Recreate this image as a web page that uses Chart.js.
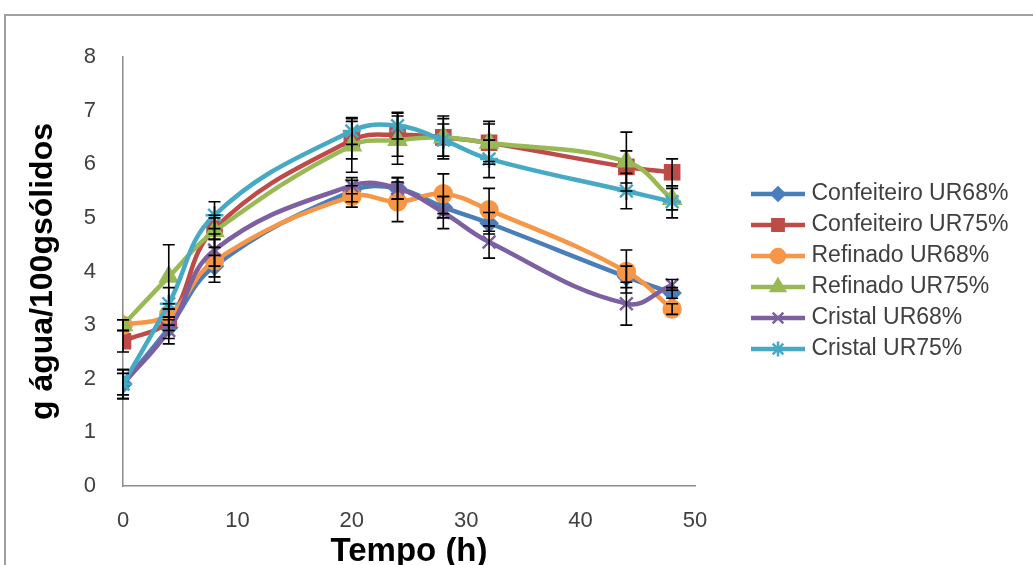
<!DOCTYPE html>
<html><head><meta charset="utf-8">
<script src="https://cdn.jsdelivr.net/npm/chart.js@4/dist/chart.umd.min.js"></script>
<style>
html,body{margin:0;padding:0;background:#fff;overflow:hidden;}
#wrap{position:relative;width:1033px;height:565px;overflow:hidden;background:#fff;}
#frame{position:absolute;left:4px;top:14px;width:1100px;height:700px;border:2px solid #a0a0a0;box-sizing:border-box;}
canvas{position:absolute;left:0;top:0;}
</style></head><body>
<div id="wrap"><div id="frame"></div><canvas id="c" width="1033" height="565"></canvas></div>
<script>
// ---- data ----
const times = [0, 4, 8, 20, 24, 28, 32, 44, 48];
const seriesNames = ['Confeiteiro UR68%', 'Confeiteiro UR75%', 'Refinado UR68%', 'Refinado UR75%', 'Cristal UR68%', 'Cristal UR75%'];
const confeiteiro68 = [1.9, 2.95, 4.1, 5.5, 5.55, 5.2, 4.9, 3.9, 3.6];
const confeiteiro75 = [2.7, 3.1, 4.8, 6.45, 6.55, 6.5, 6.4, 5.95, 5.85];
const refinado68   = [3.0, 3.2, 4.2, 5.4, 5.3, 5.45, 5.15, 4.0, 3.3];
const refinado75   = [3.0, 3.9, 4.75, 6.35, 6.45, 6.5, 6.4, 6.05, 5.35];
const cristal68    = [1.9, 2.9, 4.4, 5.6, 5.55, 5.1, 4.55, 3.4, 3.75];
const cristal75    = [1.9, 3.4, 5.05, 6.62, 6.72, 6.45, 6.1, 5.5, 5.3];
const errConfeiteiro68 = [0.2, 0.2, 0.2, 0.2, 0.2, 0.2, 0.2, 0.2, 0.1];
const errConfeiteiro75 = [0.2, 0.2, 0.2, 0.35, 0.4, 0.4, 0.4, 0.3, 0.25];
const errRefinado68    = [0.1, 0.2, 0.4, 0.2, 0.37, 0.37, 0.4, 0.4, 0.1];
const errRefinado75    = [0.1, 0.6, 0.3, 0.5, 0.45, 0.35, 0.35, 0.55, 0.2];
const errCristal68     = [0.27, 0.25, 0.3, 0.15, 0.2, 0.3, 0.3, 0.4, 0.1];
const errCristal75     = [0.27, 0.3, 0.25, 0.25, 0.25, 0.3, 0.35, 0.33, 0.3];
const xTicks = [0, 10, 20, 30, 40, 50];
const yTicks = [0, 1, 2, 3, 4, 5, 6, 7, 8];

// ---- styles ----
const seriesValues = [confeiteiro68, confeiteiro75, refinado68, refinado75, cristal68, cristal75];
const seriesErrors = [errConfeiteiro68, errConfeiteiro75, errRefinado68, errRefinado75, errCristal68, errCristal75];
const colors = ['#4A7EBB', '#BE4B48', '#F79646', '#98B954', '#7D60A0', '#46AAC5'];
const styles = ['rectRot', 'rect', 'circle', 'triangle', 'crossRot', 'star'];
const radii = [8, 10, 8.5, 9.5, 9, 9];
const legendRadii = [6.5, 8, 7, 8, 7.5, 7.5];

Chart.defaults.font.family = "'Liberation Sans', Arial, sans-serif";

function makeLegendImg(color, style, r) {
  const c = document.createElement('canvas');
  c.width = 107; c.height = 24;
  const g = c.getContext('2d');
  g.strokeStyle = color; g.lineWidth = 4.5;
  g.beginPath(); g.moveTo(53, 12); g.lineTo(107, 12); g.stroke();
  g.fillStyle = color; g.lineWidth = 2.5;
  Chart.helpers.drawPoint(g, {pointStyle: style, radius: r, rotation: 0, borderWidth: 2.5}, 80, 12);
  return c;
}
const legendImgs = colors.map((c, i) => makeLegendImg(c, styles[i], legendRadii[i]));

const datasets = seriesNames.map((name, i) => ({
  label: name,
  data: times.map((t, j) => ({x: t, y: seriesValues[i][j]})),
  borderColor: colors[i],
  backgroundColor: colors[i],
  borderWidth: 4.5,
  pointStyle: styles[i],
  pointRadius: radii[i],
  pointBackgroundColor: colors[i],
  pointBorderColor: colors[i],
  pointBorderWidth: 2.5,
  tension: 0.4,
  order: seriesNames.length - i
}));

const LEGEND_W = 338;
const legendWidthPlugin = {
  id: 'legendWidth',
  beforeLayout(chart) {
    const lg = chart.legend;
    if (lg && !lg._patched) {
      const orig = lg.fit;
      lg.fit = function () { orig.call(this); this.width = LEGEND_W; };
      lg._patched = true;
    }
  }
};

const errorBarPlugin = {
  id: 'errorBars',
  afterDatasetsDraw(chart) {
    const {ctx, scales: {x, y}} = chart;
    ctx.save();
    ctx.strokeStyle = '#000';
    ctx.lineWidth = 1.6;
    seriesValues.forEach((vals, i) => {
      vals.forEach((v, j) => {
        const e = seriesErrors[i][j];
        const px = x.getPixelForValue(times[j]);
        const top = y.getPixelForValue(v + e);
        const bot = y.getPixelForValue(v - e);
        ctx.beginPath();
        ctx.moveTo(px, top); ctx.lineTo(px, bot);
        ctx.moveTo(px - 6, top); ctx.lineTo(px + 6, top);
        ctx.moveTo(px - 6, bot); ctx.lineTo(px + 6, bot);
        ctx.stroke();
      });
    });
    ctx.restore();
  }
};

new Chart(document.getElementById('c'), {
  type: 'line',
  data: {datasets},
  plugins: [legendWidthPlugin, errorBarPlugin],
  options: {
    responsive: false,
    animation: false,
    layout: {padding: {top: 57, right: 0, bottom: 0, left: 0}},
    scales: {
      x: {
        type: 'linear', min: 0, max: 50,
        afterBuildTicks: s => { s.ticks = xTicks.map(v => ({value: v})); },
        afterFit: s => { s.height = 79; },
        grid: {display: false, drawTicks: false},
        border: {display: true, color: '#8c8c8c', width: 1.5},
        ticks: {padding: 22, color: '#404040', font: {size: 22}},
        title: {display: true, text: 'Tempo (h)', color: '#000',
          font: {size: 33, weight: 'bold', lineHeight: 0.8}, padding: {top: 0, bottom: 0}}
      },
      y: {
        type: 'linear', min: 0, max: 8,
        afterBuildTicks: s => { s.ticks = yTicks.map(v => ({value: v})); },
        afterFit: s => { s.width = 123; },
        grid: {display: false, drawTicks: false},
        border: {display: true, color: '#8c8c8c', width: 1.5},
        ticks: {padding: 27, color: '#404040', font: {size: 22}},
        title: {display: true, text: 'g água/100gsólidos', color: '#000',
          font: {size: 32, weight: 'bold', lineHeight: 1}, padding: {top: 27, bottom: 0}}
      }
    },
    plugins: {
      tooltip: {enabled: false},
      legend: {
        position: 'right',
        fullSize: false,
        align: 'center',
        labels: {
          usePointStyle: true,
          pointStyleWidth: 97,
          padding: 8,
          color: '#404040',
          font: {size: 23},
          sort: (a, b) => a.datasetIndex - b.datasetIndex,
          generateLabels: chart => {
            const items = Chart.defaults.plugins.legend.labels.generateLabels(chart);
            items.forEach(it => { it.pointStyle = legendImgs[it.datasetIndex]; });
            return items;
          }
        }
      }
    }
  }
});
</script>
</body></html>
